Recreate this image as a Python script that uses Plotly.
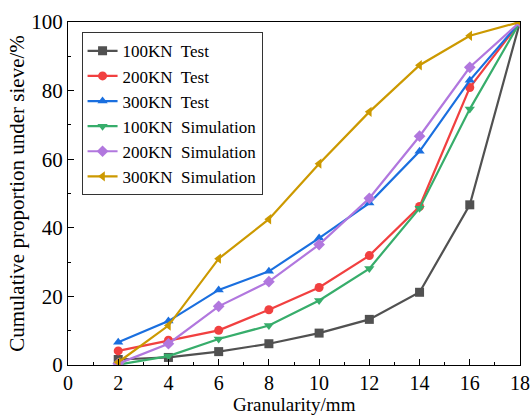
import plotly.graph_objects as go

x = [2, 4, 6, 8, 10, 12, 14, 16, 18]
test_100 = [1.6, 2.2, 3.9, 6.2, 9.3, 13.3, 21.2, 46.7, 100]
test_200 = [4.1, 7.2, 10.1, 16.1, 22.6, 31.9, 46.2, 80.9, 100]
test_300 = [6.6, 12.8, 21.9, 27.3, 37.0, 47.2, 62.3, 83.0, 100]
sim_100 = [0.1, 2.6, 7.6, 11.5, 18.8, 28.1, 45.7, 74.6, 100]
sim_200 = [0.4, 6.2, 17.1, 24.3, 35.1, 48.6, 66.7, 86.8, 100]
sim_300 = [0.8, 11.5, 31.0, 42.5, 58.7, 73.8, 87.4, 96.0, 100]

names = ["100KN\u00a0 Test", "200KN\u00a0 Test", "300KN\u00a0 Test",
         "100KN\u00a0 Simulation", "200KN\u00a0 Simulation", "300KN\u00a0 Simulation"]
series = [test_100, test_200, test_300, sim_100, sim_200, sim_300]
colors = ["#515151", "#F14040", "#1A6FDF", "#37AD6B", "#B177DE", "#CC9900"]
symbols = ["square", "circle", "triangle-up", "triangle-down", "diamond", "triangle-left"]

fig = go.Figure()
for n, s, c, m in zip(names, series, colors, symbols):
    fig.add_trace(go.Scatter(
        x=x, y=s, name=n, mode="lines+markers",
        line=dict(color=c, width=2.2),
        marker=dict(symbol=m, size=9, color=c),
    ))

font = "Liberation Serif, Times New Roman, serif"
fig.update_layout(
    width=531, height=420,
    margin=dict(l=68, r=11, t=22, b=55),
    paper_bgcolor="white", plot_bgcolor="white",
    font=dict(family=font, size=21, color="black"),
    showlegend=True,
    legend=dict(
        x=0.03, y=0.97, xanchor="left", yanchor="top",
        bordercolor="#333", borderwidth=1, bgcolor="white",
        font=dict(family=font, size=17),
        tracegroupgap=0, itemwidth=30,
    ),
    xaxis=dict(
        range=[0, 18], dtick=2, tick0=0, automargin=False,
        showline=True, linecolor="black", linewidth=1, mirror=True,
        ticks="inside", ticklen=6, tickcolor="black",
        minor=dict(ticks="inside", ticklen=3, dtick=1, tickcolor="black"),
        showgrid=False, zeroline=False,
        tickfont=dict(size=20),
    ),
    yaxis=dict(
        range=[0, 100], dtick=20, tick0=0, automargin=False,
        showline=True, linecolor="black", linewidth=1, mirror=True,
        ticks="inside", ticklen=6, tickcolor="black",
        minor=dict(ticks="inside", ticklen=3, dtick=10, tickcolor="black"),
        showgrid=False, zeroline=False,
        title=dict(text="Cumulative proportion under sieve/%", standoff=0, font=dict(size=21)),
        tickfont=dict(size=21),
    ),
    annotations=[dict(
        text="Granularity/mm", xref="paper", yref="paper",
        x=0.5, y=0, xanchor="center", yanchor="top", yshift=-27,
        showarrow=False, font=dict(family=font, size=19, color="black"),
    )],
)

fig.write_html("out.html")
